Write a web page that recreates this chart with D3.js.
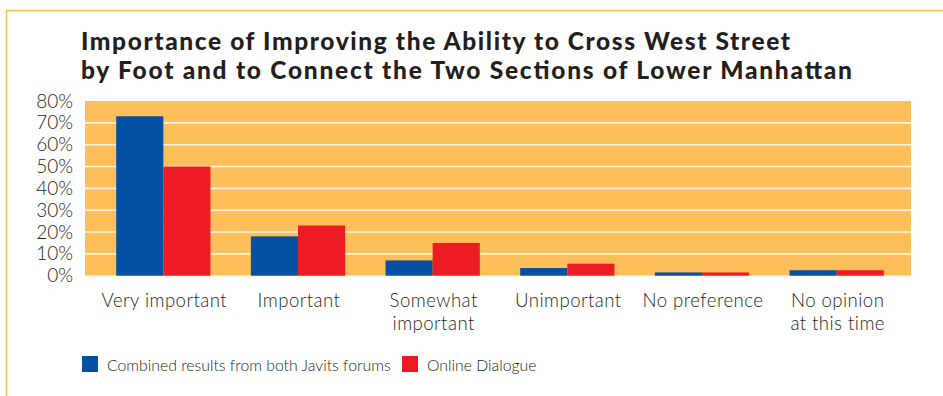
<!DOCTYPE html>
<html>
<head>
<meta charset="utf-8">
<script src="https://cdn.jsdelivr.net/npm/d3@7"></script>
<style>
  html, body { margin: 0; padding: 0; background: #fff; }
  svg { display: block; }
  text { font-family: Lato, "Open Sans", sans-serif; fill: #231f20; }
</style>
</head>
<body>
<svg id="chart" width="943" height="396"></svg>
<script>
// Survey responses, percent of respondents
const categories = [
  ["Very important"],
  ["Important"],
  ["Somewhat", "important"],
  ["Unimportant"],
  ["No preference"],
  ["No opinion", "at this time"]
];
const seriesNames = ["Combined results from both Javits forums", "Online Dialogue"];
const javitsForums = [73, 18, 7, 3.5, 1.5, 2.5];
const onlineDialogue = [50, 23, 15, 5.5, 1.5, 2.5];
const yTicks = [0, 10, 20, 30, 40, 50, 60, 70, 80];
const titleLines = [
  "Importance of Improving the Ability to Cross West Street",
  "by Foot and to Connect the Two Sections of Lower Manhattan"
];

const colors = ["#0450a3", "#ed1c24"];
const svg = d3.select("#chart");

// outer frame: top and left rules
svg.append("line").attr("x1", 6).attr("x2", 943).attr("y1", 10.5).attr("y2", 10.5)
  .attr("stroke", "#fec24a").attr("stroke-width", 1.5);
svg.append("line").attr("x1", 6.5).attr("x2", 6.5).attr("y1", 10).attr("y2", 396)
  .attr("stroke", "#fec24a").attr("stroke-width", 1.5);

// title, spread to its set line widths
const titleWidths = [709, 771];
titleLines.forEach((ln, i) => {
  svg.append("text").attr("x", 81).attr("y", 50 + i * 29)
    .attr("font-size", 24.5).attr("font-weight", 900)
    .attr("textLength", titleWidths[i]).attr("lengthAdjust", "spacing")
    .text(ln);
});

// plot area
const plot = { left: 85, right: 911, top: 101, bottom: 275.7 };
const y = d3.scaleLinear().domain([0, 80]).range([plot.bottom, plot.top]);
const x = d3.scaleBand().domain(d3.range(categories.length))
  .range([96, 904]).paddingInner(0.3).paddingOuter(0.15);
const xs = d3.scaleBand().domain([0, 1]).range([0, x.bandwidth()]);

svg.append("rect").attr("x", plot.left).attr("y", plot.top)
  .attr("width", plot.right - plot.left).attr("height", plot.bottom - plot.top)
  .attr("fill", "#febf5b");

// gridlines
svg.append("g").selectAll("line").data(yTicks.filter(d => d > 0 && d < 80)).join("line")
  .attr("x1", plot.left).attr("x2", plot.right)
  .attr("y1", d => y(d)).attr("y2", d => y(d))
  .attr("stroke", "#fff3dc").attr("stroke-width", 1.6);
svg.append("line").attr("x1", plot.left).attr("x2", plot.right)
  .attr("y1", y(0)).attr("y2", y(0)).attr("stroke", "#ffe6b8").attr("stroke-width", 1.2);

// bars
const series = [javitsForums, onlineDialogue];
series.forEach((vals, si) => {
  svg.append("g").selectAll("rect").data(vals).join("rect")
    .attr("x", (d, i) => x(i) + xs(si))
    .attr("width", xs.bandwidth())
    .attr("y", d => y(d))
    .attr("height", d => y(0) - y(d))
    .attr("fill", colors[si]);
});

// y axis labels
const yAxis = svg.append("g").attr("transform", `translate(${plot.left},0)`)
  .call(d3.axisLeft(y).tickValues(yTicks).tickFormat(d => d + "%").tickSize(0).tickPadding(12));
yAxis.select(".domain").remove();
yAxis.selectAll("text").attr("font-size", 19).attr("font-weight", 300)
  .style("font-family", "Lato, sans-serif").attr("fill", "#231f20");

// category labels, one text per line
const catG = svg.append("g");
categories.forEach((lines, i) => {
  lines.forEach((ln, k) => {
    catG.append("text").attr("text-anchor", "middle")
      .attr("font-size", 18.6).attr("font-weight", 300)
      .attr("letter-spacing", 0.45)
      .attr("x", x(i) + x.bandwidth() / 2 + 1)
      .attr("y", 307 + k * 22.5).text(ln);
  });
});

// legend
const legend = svg.append("g");
const legendX = [82, 402];
seriesNames.forEach((name, i) => {
  legend.append("rect").attr("x", legendX[i]).attr("y", 356)
    .attr("width", 16).attr("height", 16).attr("fill", colors[i]);
  legend.append("text").attr("x", legendX[i] + 25).attr("y", 371)
    .attr("font-size", 15.8).attr("font-weight", 300).text(name);
});
</script>
</body>
</html>
